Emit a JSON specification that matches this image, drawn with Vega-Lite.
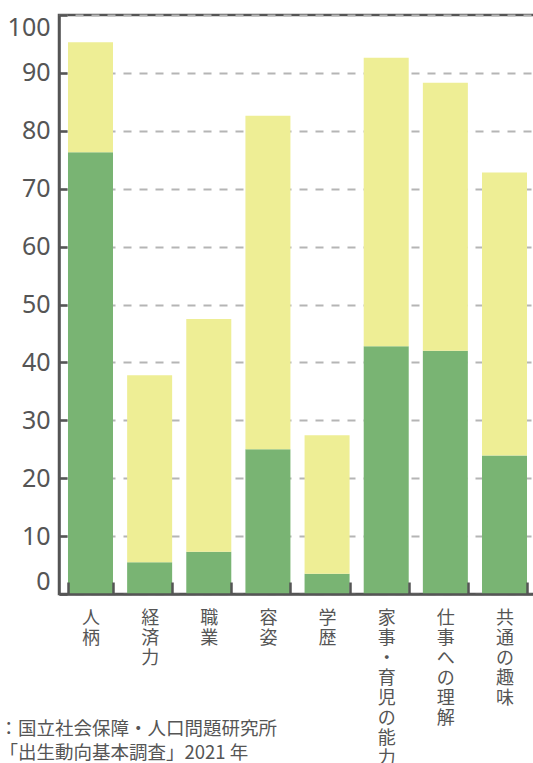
{
  "$schema": "https://vega.github.io/schema/vega-lite/v6.json",
  "width": 477,
  "height": 579,
  "autosize": {"type": "none"},
  "padding": {"left": 59, "top": 15, "right": 0, "bottom": 169},
  "background": "white",
  "config": {
    "view": {"stroke": "#555555", "strokeWidth": 2.5},
    "axis": {"labelColor": "#555555", "domainColor": "#555555", "tickColor": "#555555"}
  },
  "data": {
    "values": [
      {"item": "人柄", "type": "重視する", "value": 76.3},
      {"item": "人柄", "type": "考慮する", "value": 19.0},
      {"item": "経済力", "type": "重視する", "value": 5.5},
      {"item": "経済力", "type": "考慮する", "value": 32.3},
      {"item": "職業", "type": "重視する", "value": 7.3},
      {"item": "職業", "type": "考慮する", "value": 40.2},
      {"item": "容姿", "type": "重視する", "value": 25.0},
      {"item": "容姿", "type": "考慮する", "value": 57.6},
      {"item": "学歴", "type": "重視する", "value": 3.5},
      {"item": "学歴", "type": "考慮する", "value": 23.9},
      {"item": "家事・育児の能力", "type": "重視する", "value": 42.8},
      {"item": "家事・育児の能力", "type": "考慮する", "value": 49.8},
      {"item": "仕事への理解", "type": "重視する", "value": 42.0},
      {"item": "仕事への理解", "type": "考慮する", "value": 46.3},
      {"item": "共通の趣味", "type": "重視する", "value": 23.9},
      {"item": "共通の趣味", "type": "考慮する", "value": 48.9}
    ]
  },
  "mark": {"type": "bar"},
  "encoding": {
    "x": {
      "field": "item",
      "type": "nominal",
      "sort": null,
      "scale": {"paddingInner": 0.239, "paddingOuter": 0.152},
      "axis": {
        "zindex": 1,
        "domainWidth": 2.5,
        "tickWidth": 2.5,
        "tickSize": -12,
        "tickBand": "extent",
        "labelAngle": 0,
        "labelAlign": "center",
        "labelBaseline": "top",
        "labelPadding": 27,
        "labelFont": "Noto Sans CJK JP",
        "labelFontSize": 18,
        "labelLineHeight": 20,
        "labelOverlap": false,
        "labelBound": false,
        "labelExpr": "split(datum.label, '')",
        "title": ["：国立社会保障・人口問題研究所", "\u2002「出生動向基本調査」2021 年"],
        "titleFont": "Noto Sans CJK JP",
        "titleFontSize": 18.5,
        "titleFontWeight": "normal",
        "titleColor": "#555555",
        "titleLineHeight": 24,
        "titleAlign": "left",
        "titleBaseline": "top",
        "titleAngle": 0,
        "titleX": -60,
        "titleY": 125
      }
    },
    "y": {
      "field": "value",
      "type": "quantitative",
      "stack": "zero",
      "scale": {"domain": [0, 100], "nice": false},
      "axis": {
        "title": null,
        "values": [0, 10, 20, 30, 40, 50, 60, 70, 80, 90, 100],
        "domainWidth": 2.5,
        "tickWidth": 2.5,
        "tickSize": -8,
        "labelPadding": 17,
        "labelFont": "Noto Sans",
        "labelFontSize": 25,
        "labelFlush": true,
        "grid": true,
        "gridColor": "#b5b5b5",
        "gridWidth": 2,
        "gridDash": [8, 8]
      }
    },
    "color": {
      "field": "type",
      "type": "nominal",
      "scale": {"domain": ["重視する", "考慮する"], "range": ["#79b473", "#eeee95"]},
      "legend": null
    },
    "order": {"field": "type", "sort": "descending"}
  }
}
